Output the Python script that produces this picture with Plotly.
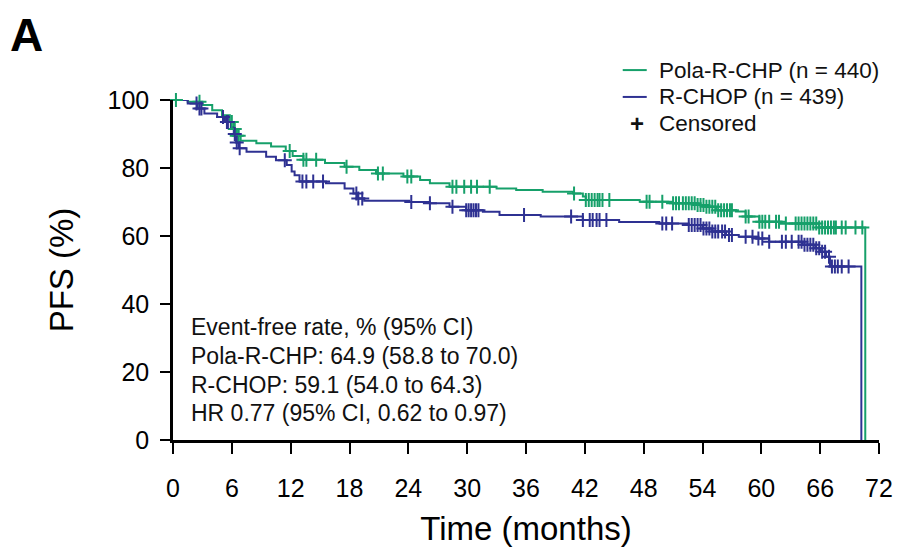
import numpy as np
import plotly.graph_objects as go

# ---------------- data ----------------
# Kaplan-Meier step knots: time (months) -> PFS (%) after the step
pola_t = [0, 1.5, 3.0, 4.0, 5.0, 5.8, 6.2, 6.5, 6.9, 8.5, 10.0, 11.5, 12.2, 13.3, 15.5,
          17.5, 19.0, 20.7, 23.5, 25.2, 26.2, 28.2, 33.0, 35.0, 37.7, 40.8, 41.8, 42.1,
          47.6, 51.0, 53.3, 54.3, 55.4, 57.4, 58.4, 59.8, 62.0, 65.9, 70.6]
pola_s = [100, 99.5, 98.5, 97.0, 95.5, 93.5, 91.5, 89.5, 88.0, 87.3, 86.3, 85.0, 83.5, 82.4, 81.5,
          80.4, 79.4, 78.4, 77.5, 76.5, 75.5, 74.5, 74.0, 73.5, 73.0, 72.5, 71.6, 70.6,
          70.1, 69.6, 69.1, 68.6, 67.6, 67.2, 65.7, 64.2, 63.7, 62.5, 0]

rchop_t = [0, 1.5, 2.5, 3.2, 4.5, 5.3, 5.9, 6.2, 6.4, 6.7, 7.5, 9.5, 10.5, 11.6, 12.1, 12.4,
           12.9, 15.6, 17.5, 18.4, 18.8, 19.5, 24.1, 26.2, 28.2, 29.9, 31.6, 33.3, 37.5, 41.8,
           45.5, 49.6, 52.6, 54.0, 55.0, 56.4, 57.7, 59.5, 60.8, 64.2, 65.5, 66.0, 66.6, 67.0, 70.2]
rchop_s = [100, 99.0, 97.5, 96.0, 95.0, 93.5, 92.0, 90.0, 87.5, 85.8, 84.8, 83.3, 82.3, 80.9, 79.0, 77.9,
           76.0, 75.5, 74.0, 72.5, 71.0, 70.4, 70.0, 69.6, 68.6, 67.6, 67.1, 66.2, 65.7, 64.7,
           64.1, 63.7, 63.2, 62.2, 61.3, 60.3, 59.8, 59.3, 58.3, 57.4, 56.4, 55.4, 53.9, 51.0, 0]

# censoring times (months)
pola_cens = [0.3, 2.7, 6.0, 6.3, 6.5, 6.7, 11.9, 13.3, 13.6, 14.6, 17.7, 20.9, 21.4, 23.9, 24.3,
             28.5, 28.9, 29.7, 30.4, 31.0, 32.3, 40.9, 42.1, 42.4, 42.7, 43.0, 43.3, 43.5, 43.8,
             44.5, 48.3, 48.6, 49.9, 51.0, 51.3, 51.6, 52.0, 52.3, 52.6, 52.9, 53.2, 53.5, 53.8,
             54.1, 54.4, 54.7, 55.0, 55.3, 55.6, 55.9, 56.2, 56.5, 56.8, 57.0, 58.4, 58.7, 59.8,
             60.1, 60.4, 60.8, 61.5, 61.8, 62.5, 63.5, 63.8, 64.1, 64.4, 64.7, 65.0, 65.3, 65.6,
             65.9, 66.2, 66.5, 66.8, 67.1, 67.4, 67.6, 68.2, 68.6, 69.6, 70.3]
rchop_cens = [2.4, 2.7, 2.9, 5.1, 5.5, 5.6, 6.3, 6.5, 6.8, 11.4, 13.2, 13.6, 14.3, 15.3, 18.7,
              18.9, 19.3, 24.3, 26.2, 28.5, 29.9, 30.15, 30.4, 30.65, 30.9, 31.15, 35.8, 40.6, 41.8,
              42.5, 42.8, 43.2, 43.5, 44.2, 49.9, 50.3, 50.9, 52.6, 52.9, 53.2, 53.5, 53.8, 54.1,
              54.4, 54.7, 55.0, 55.3, 55.6, 56.0, 56.3, 56.7, 57.0, 58.4, 59.1, 59.7, 60.1, 60.8,
              62.1, 62.5, 63.1, 63.8, 64.1, 64.4, 64.7, 65.0, 65.3, 65.6, 65.9, 66.2, 66.5, 66.9,
              67.2, 67.5, 67.8, 68.2, 68.9]

x_ticks = [0, 6, 12, 18, 24, 30, 36, 42, 48, 54, 60, 66, 72]
y_ticks = [0, 20, 40, 60, 80, 100]

names = ["Pola-R-CHP (n = 440)", "R-CHOP (n = 439)", "Censored"]
stats_lines = ["Event-free rate, % (95% CI)",
               "Pola-R-CHP: 64.9 (58.8 to 70.0)",
               "R-CHOP: 59.1 (54.0 to 64.3)",
               "HR 0.77 (95% CI, 0.62 to 0.97)"]

GREEN = "#16A06A"
BLUE = "#2E3192"
FONT = "Liberation Sans, Arial, Helvetica, sans-serif"


def step_at(times, surv, c):
    t = np.asarray(times)
    s = np.asarray(surv)
    idx = np.searchsorted(t, np.asarray(c), side="right") - 1
    return s[np.clip(idx, 0, len(s) - 1)]


fig = go.Figure()

series = [(pola_t, pola_s, pola_cens, GREEN, names[0]),
          (rchop_t, rchop_s, rchop_cens, BLUE, names[1])]

for t, s, cens, col, nm in series:
    fig.add_trace(go.Scatter(x=t, y=s, mode="lines", line=dict(color=col, width=2, shape="hv"),
                             name=nm, cliponaxis=False, showlegend=False))

for t, s, cens, col, nm in series:
    fig.add_trace(go.Scatter(x=cens, y=step_at(t, s, cens), mode="markers",
                             marker=dict(symbol="cross-thin", size=10, line=dict(color=col, width=2)),
                             showlegend=False, cliponaxis=False, hoverinfo="skip"))

# ---- legend drawn manually (paper coordinates) ----
leg_rows = [1.088, 1.009, 0.932]
for (col, nm), yy in zip([(GREEN, names[0]), (BLUE, names[1])], leg_rows[:2]):
    fig.add_shape(type="line", xref="paper", yref="paper", x0=0.637, x1=0.671, y0=yy, y1=yy,
                  line=dict(color=col, width=2))
    fig.add_annotation(x=0.685, xref="paper", y=yy, yref="paper", text=nm, showarrow=False,
                       xanchor="left", yanchor="middle", font=dict(size=22.5, color="#111", family=FONT))
fig.add_annotation(x=0.657, xref="paper", y=leg_rows[2], yref="paper", text="<b>+</b>", showarrow=False,
                   xanchor="center", yanchor="middle", font=dict(size=24, color="#111", family=FONT))
fig.add_annotation(x=0.685, xref="paper", y=leg_rows[2], yref="paper", text=names[2], showarrow=False,
                   xanchor="left", yanchor="middle", font=dict(size=22.5, color="#111", family=FONT))

# statistics text block
stat_y = [33.2, 24.7, 16.2, 7.9]
for txt, yy in zip(stats_lines, stat_y):
    fig.add_annotation(x=0.022, xref="paper", y=yy, yref="y", text=txt, showarrow=False,
                       xanchor="left", yanchor="middle", font=dict(size=23, color="#111", family=FONT))

# panel label
fig.add_annotation(x=-0.234, xref="paper", y=1.19, yref="paper", text="<b>A</b>", showarrow=False,
                   xanchor="left", yanchor="middle", font=dict(size=46, color="black", family=FONT))

fig.update_layout(
    width=899, height=551,
    margin=dict(l=173, r=20, t=100, b=111),
    paper_bgcolor="white", plot_bgcolor="white",
    font=dict(family=FONT, color="black"),
    showlegend=False,
    xaxis=dict(range=[0, 72], tickvals=x_ticks, ticks="outside", ticklen=11, tickwidth=2,
               tickcolor="black", showline=True, linecolor="black", linewidth=2.5,
               showgrid=False, zeroline=False, tickfont=dict(size=25),
               ticklabelstandoff=13, automargin=False,
               title=dict(text="Time (months)", font=dict(size=33), standoff=17)),
    yaxis=dict(range=[0, 100], tickvals=y_ticks, ticks="outside", ticklen=10, tickwidth=2,
               tickcolor="black", showline=True, linecolor="black", linewidth=2.5,
               showgrid=False, zeroline=False, tickfont=dict(size=25), ticklabelstandoff=6,
               automargin=False,
               title=dict(text="PFS (%)", font=dict(size=33), standoff=24)),
)

fig.write_html("out.html")
